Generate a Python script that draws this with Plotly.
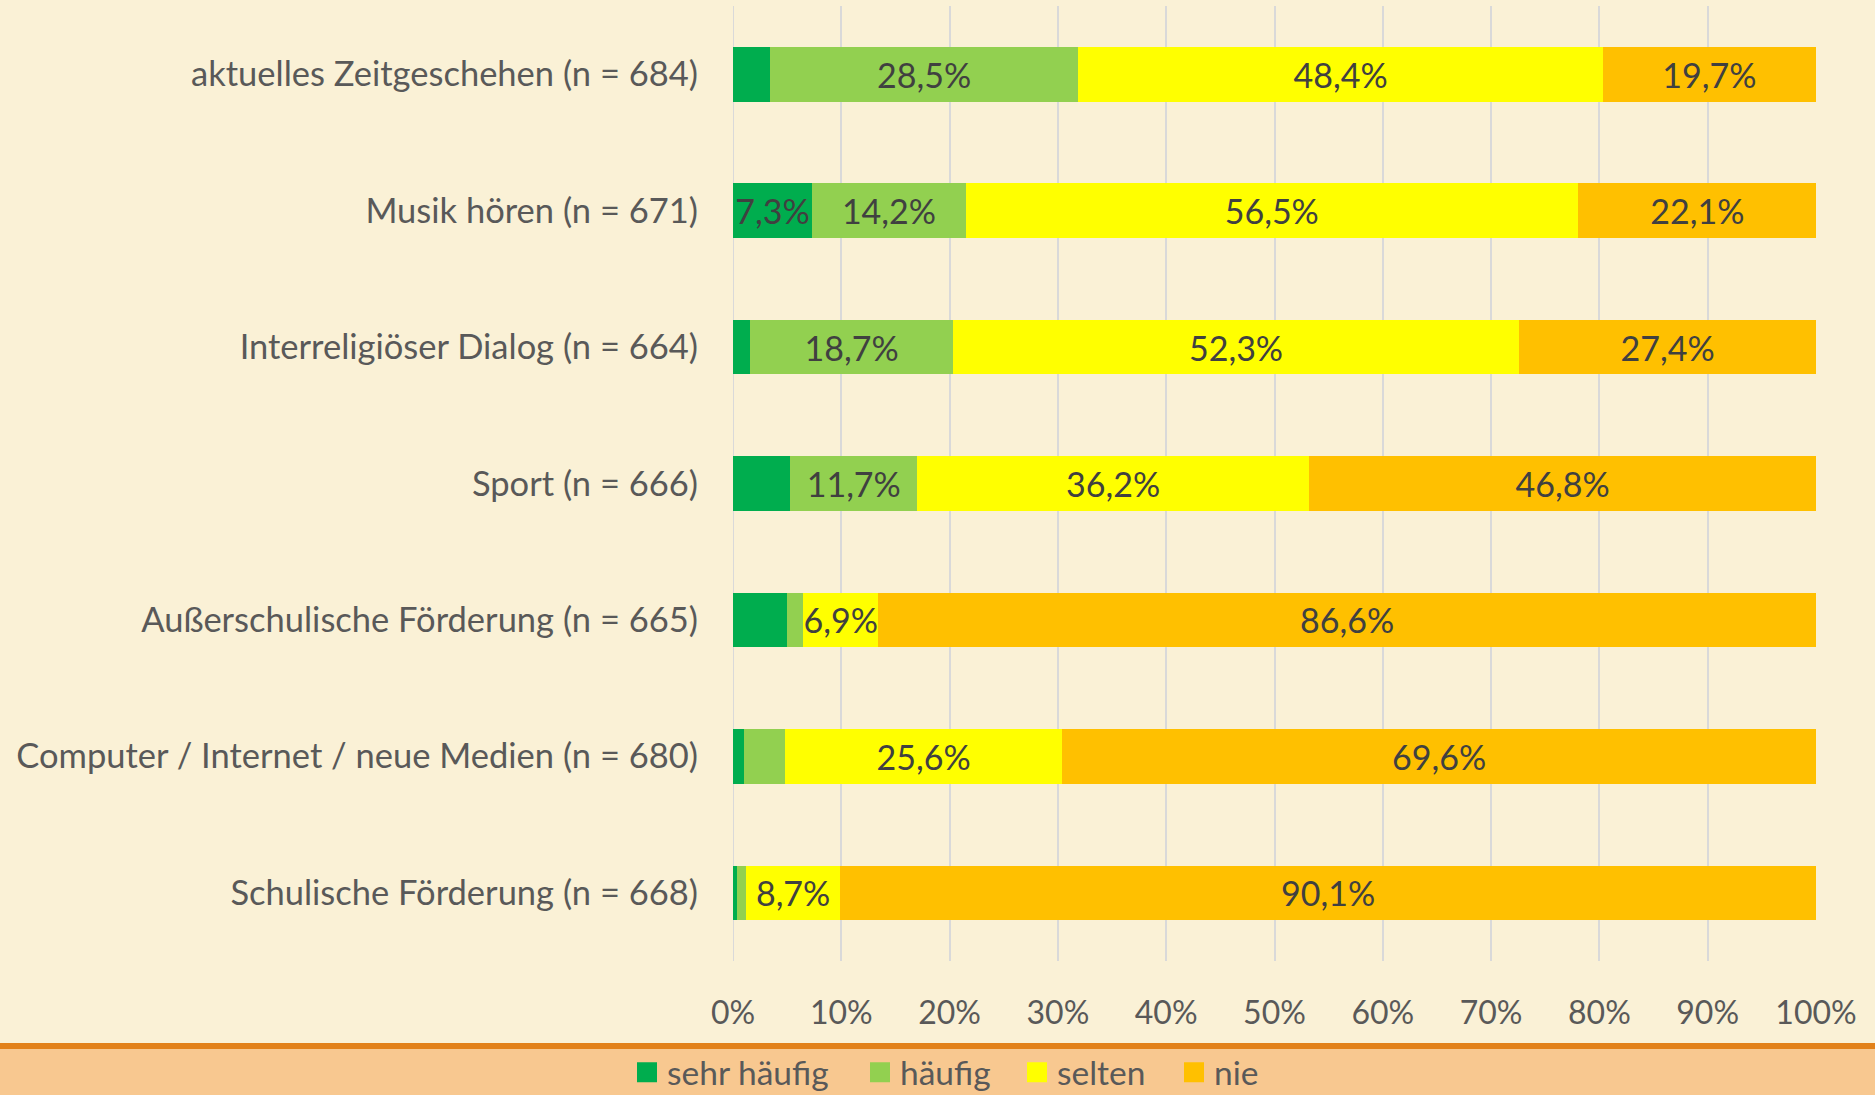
import plotly.graph_objects as go

categories = [
    "aktuelles Zeitgeschehen (n = 684)",
    "Musik hören (n = 671)",
    "Interreligiöser Dialog (n = 664)",
    "Sport (n = 666)",
    "Außerschulische Förderung (n = 665)",
    "Computer / Internet / neue Medien (n = 680)",
    "Schulische Förderung (n = 668)",
]
sehr_haeufig = [3.4, 7.3, 1.6, 5.3, 5.0, 1.0, 0.4]
haeufig = [28.5, 14.2, 18.7, 11.7, 1.5, 3.8, 0.8]
selten = [48.4, 56.5, 52.3, 36.2, 6.9, 25.6, 8.7]
nie = [19.7, 22.1, 27.4, 46.8, 86.6, 69.6, 90.1]

series = [
    ("sehr häufig", sehr_haeufig, "#00AD4E"),
    ("häufig", haeufig, "#92D050"),
    ("selten", selten, "#FFFF00"),
    ("nie", nie, "#FFC000"),
]
# left pixel position of each legend entry (square centre - 20)
legend_x_px = [627, 860, 1017, 1174]

FONT = "Lato"
BG = "#FAF1D6"

def fmt(v):
    return (f"{v:.1f}".replace(".", ",") + "%") if v >= 6.5 else ""

fig = go.Figure()
for name, vals, col in series:
    fig.add_trace(go.Bar(
        name=name, y=categories, x=vals, orientation="h",
        marker=dict(color=col, line=dict(width=0)),
        text=[fmt(v) for v in vals], texttemplate="%{text}",
        textposition="inside", insidetextanchor="middle", textangle=0,
        textfont=dict(family=FONT, size=34, color="#404040"),
        hoverinfo="skip", showlegend=False,
    ))

legend_layouts = {}
for i, (name, vals, col) in enumerate(series):
    key = "legend" if i == 0 else f"legend{i + 1}"
    fig.add_trace(go.Scatter(
        name=name, x=[None], y=[None], mode="markers",
        marker=dict(symbol="square", size=16, color=col,
                    line=dict(color=col, width=4)),
        showlegend=True, hoverinfo="skip", legend=key,
    ))
    legend_layouts[key] = dict(
        orientation="h", xref="container", yref="container",
        x=legend_x_px[i] / 1875, y=0.0205, xanchor="left", yanchor="middle",
        bgcolor="rgba(0,0,0,0)", borderwidth=0,
        font=dict(family=FONT, size=33.5, color="#595959"),
        itemwidth=30,
    )

fig.update_layout(
    width=1875, height=1095,
    barmode="stack", bargap=0.6,
    paper_bgcolor=BG, plot_bgcolor=BG,
    margin=dict(l=733, r=59, t=6, b=134),
    uniformtext=dict(minsize=34, mode="show"),
    font=dict(family=FONT, color="#595959", size=32),
    xaxis=dict(
        range=[0, 100], dtick=10, ticksuffix="%",
        showgrid=True, gridcolor="#D9D9D9", gridwidth=2,
        zeroline=False, showline=False, ticks="",
        tickfont=dict(size=32, color="#595959"),
        ticklabelstandoff=30, fixedrange=True,
    ),
    yaxis=dict(
        categoryorder="array", categoryarray=categories, autorange="reversed",
        showgrid=False, zeroline=False, showline=False, ticks="",
        tickfont=dict(size=34.5, color="#595959"),
        ticklabelstandoff=34, fixedrange=True,
    ),
    shapes=[
        dict(type="rect", xref="paper", yref="paper",
             x0=-733 / 1083, x1=1 + 59 / 1083, y0=-0.0921, y1=-0.1500,
             fillcolor="#F8C890", line=dict(width=0), layer="below"),
        dict(type="rect", xref="paper", yref="paper",
             x0=-733 / 1083, x1=1 + 59 / 1083, y0=-0.0859, y1=-0.0921,
             fillcolor="#E2811A", line=dict(width=0), layer="below"),
    ],
    **legend_layouts,
)
fig.add_vline(x=0, line=dict(color="#D9D9D9", width=2), layer="below")

fig.write_html(
    "out.html",
    config={"displayModeBar": False},
    post_script="document.body.style.margin='0';document.body.style.overflow='hidden';",
)
